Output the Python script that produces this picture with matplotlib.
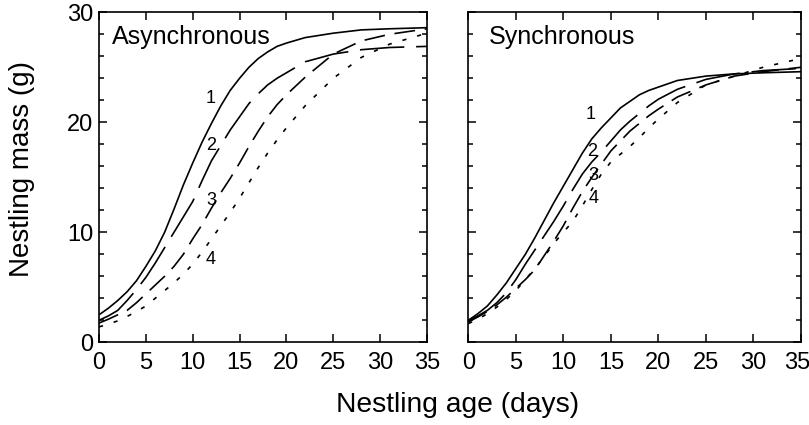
import matplotlib
matplotlib.use("Agg")
import matplotlib.pyplot as plt
from matplotlib.ticker import MultipleLocator

plt.rcParams['font.family'] = ['Liberation Sans', 'DejaVu Sans']
plt.rcParams['lines.scale_dashes'] = False

age = [0, 1, 2, 3, 4, 5, 6, 7, 8, 9, 10, 11, 12, 13, 14, 15, 16, 17, 18, 19, 20, 22, 25, 28, 31, 35]

# Asynchronous broods, mass (g) of chick 1..4
async_1 = [2.5, 3.1, 3.8, 4.6, 5.6, 6.9, 8.3, 10.0, 12.1, 14.3, 16.3, 18.2, 19.9, 21.5, 22.9,
           24.0, 25.0, 25.8, 26.4, 26.9, 27.2, 27.7, 28.1, 28.4, 28.5, 28.6]
async_2 = [2.0, 2.4, 2.9, 3.8, 4.8, 5.9, 7.2, 8.6, 10.0, 11.4, 12.8, 14.7, 16.5, 17.9, 19.3,
           20.5, 21.7, 22.6, 23.4, 24.0, 24.5, 25.5, 26.2, 26.6, 26.8, 26.9]
async_3 = [1.75, 2.1, 2.5, 2.9, 3.6, 4.4, 5.2, 6.0, 6.9, 8.0, 9.4, 10.7, 12.2, 13.6, 14.9,
           16.3, 17.8, 19.2, 20.5, 21.6, 22.5, 24.1, 26.2, 27.4, 28.0, 28.5]
async_4 = [1.4, 1.65, 1.95, 2.35, 2.8, 3.3, 4.0, 4.7, 5.4, 6.2, 7.1, 8.2, 9.4, 10.6, 11.8,
           13.1, 14.5, 15.9, 17.2, 18.4, 19.5, 21.5, 24.0, 25.9, 27.1, 28.1]

# Synchronous broods
sync_1 = [2.0, 2.6, 3.3, 4.3, 5.4, 6.7, 8.0, 9.5, 11.1, 12.7, 14.2, 15.7, 17.2, 18.5, 19.5,
          20.4, 21.3, 21.9, 22.5, 22.9, 23.2, 23.8, 24.2, 24.4, 24.5, 24.6]
sync_2 = [1.95, 2.4, 2.9, 3.6, 4.5, 5.7, 7.1, 8.4, 9.7, 11.0, 12.4, 13.9, 15.3, 16.4, 17.3,
          18.3, 19.3, 20.1, 20.8, 21.5, 22.1, 23.0, 23.9, 24.4, 24.7, 24.9]
sync_3 = [1.85, 2.3, 2.8, 3.4, 4.1, 4.9, 5.7, 6.6, 7.9, 9.2, 10.6, 12.2, 13.7, 15.0, 16.2,
          17.4, 18.3, 19.2, 19.9, 20.6, 21.2, 22.3, 23.4, 24.2, 24.6, 25.0]
sync_4 = [1.7, 2.1, 2.6, 3.2, 3.9, 4.7, 5.7, 6.7, 7.8, 9.0, 10.0, 11.0, 12.4, 13.9, 15.3,
          16.4, 17.1, 17.8, 18.6, 19.5, 20.3, 21.8, 23.4, 24.2, 25.0, 25.8]

chick_labels = ['1', '2', '3', '4']
xticks = [0, 5, 10, 15, 20, 25, 30, 35]

# line styles for chicks 1..4 (solid, long dash, dash, short dash)
styles = [(0, ()), (0, (32, 8.5)), (0, (15, 7)), (0, (3, 8))]

fig = plt.figure(figsize=(8.09, 4.25), dpi=100)
ax1 = fig.add_axes([0.1224, 0.1946, 0.4054, 0.7765])
ax2 = fig.add_axes([0.5789, 0.1946, 0.4112, 0.7765])


def draw_panel(ax, series, title, title_x, label_pos):
    for ys, ls in zip(series, styles):
        ax.plot(age, ys, color='black', lw=1.2, linestyle=ls)
    for lab, (lx, ly) in zip(chick_labels, label_pos):
        ax.text(lx, ly, lab, fontsize=13, ha='center', va='center')
    ax.text(title_x, 27.1, title, fontsize=18, ha='left', va='baseline')
    ax.set_xlim(0, 35)
    ax.set_ylim(0, 30)
    ax.set_xticks(xticks)
    ax.yaxis.set_major_locator(MultipleLocator(10))
    ax.yaxis.set_minor_locator(MultipleLocator(2))
    ax.tick_params(which='both', direction='in', top=True, right=True, width=1.1)
    ax.tick_params(which='major', length=6, labelsize=17)
    ax.tick_params(which='minor', length=3.5)
    ax.tick_params(axis='x', pad=7)
    ax.tick_params(axis='y', pad=4)
    for sp in ax.spines.values():
        sp.set_linewidth(1.2)


draw_panel(ax1, [async_1, async_2, async_3, async_4], 'Asynchronous', 1.36,
           [(11.9, 22.2), (11.95, 17.9), (11.95, 12.9), (11.95, 7.5)])
draw_panel(ax2, [sync_1, sync_2, sync_3, sync_4], 'Synchronous', 2.2,
           [(12.9, 20.75), (13.0, 17.3), (13.15, 15.2), (13.15, 13.1)])
ax2.set_yticklabels([])

# last label of the right panel sits at the figure edge, pull it in a little
ax2.set_xticklabels([str(t) for t in xticks[:-1]] + [''])
ax2.annotate(str(xticks[-1]), xy=(xticks[-1], 0), xycoords=('data', 'axes fraction'),
             xytext=(-2.5, -7), textcoords='offset points', ha='center', va='top',
             fontsize=17, annotation_clip=False)

fig.text(0.027, 0.602, 'Nestling mass (g)', fontsize=20, rotation=90, ha='center', va='center')
fig.text(0.565, 0.047, 'Nestling age (days)', fontsize=20.3, ha='center', va='center')

fig.savefig('out.png', dpi=100)
